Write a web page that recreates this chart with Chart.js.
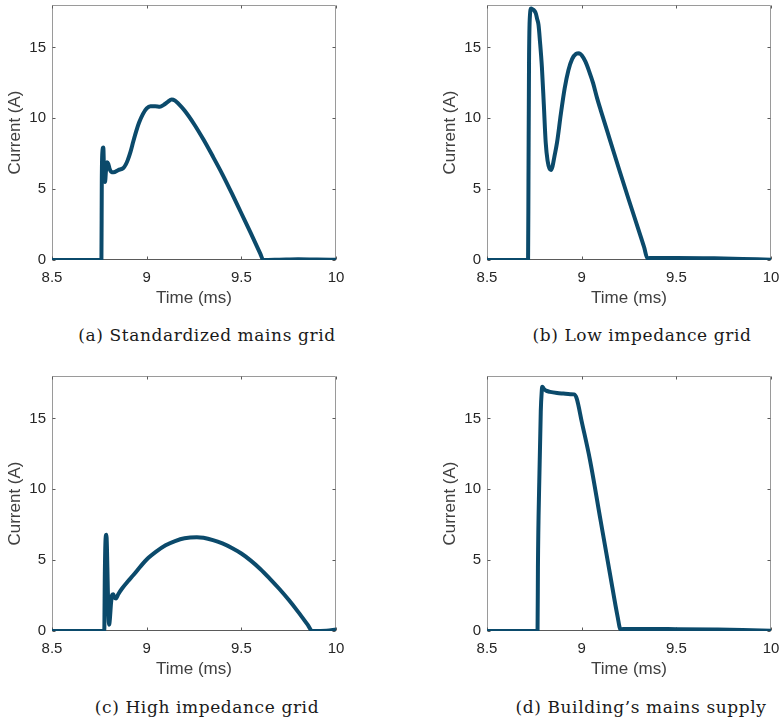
<!DOCTYPE html>
<html>
<head>
<meta charset="utf-8">
<script src="https://cdn.jsdelivr.net/npm/chart.js@4.4.0/dist/chart.umd.min.js"></script>
<style>
body { margin: 0; background: #fff; width: 780px; height: 721px; position: relative; overflow: hidden; }
.panel { position: absolute; width: 390px; height: 320px; }
.cap { position: absolute; font-family: "DejaVu Serif", serif; font-size: 17px; letter-spacing: 0.6px; color: #1a1a1a; transform: translate(-50%, -50%); white-space: nowrap; }
</style>
</head>
<body>
<div class="panel" style="left:0;top:0"><canvas id="chartA" width="390" height="320"></canvas></div>
<div class="panel" style="left:390px;top:0"><canvas id="chartB" width="390" height="320"></canvas></div>
<div class="panel" style="left:0;top:371px"><canvas id="chartC" width="390" height="320"></canvas></div>
<div class="panel" style="left:390px;top:371px"><canvas id="chartD" width="390" height="320"></canvas></div>
<div class="cap" style="left:207px;top:335px">(a) Standardized mains grid</div>
<div class="cap" style="left:642px;top:335px">(b) Low impedance grid</div>
<div class="cap" style="left:207px;top:707px">(c) High impedance grid</div>
<div class="cap" style="left:641px;top:707px">(d) Building’s mains supply</div>
<script>
// axis ticks
const xTicks = [8.5, 9, 9.5, 10];
const xTickLabels = ['8.5', '9', '9.5', '10'];
const yTicks = [0, 5, 10, 15];
const yTickLabels = ['0', '5', '10', '15'];

// (a) standardized mains grid
const timeA = [8.5, 8.761, 8.763, 8.766, 8.771, 8.775, 8.780, 8.785, 8.791, 8.797, 8.805, 8.815, 8.825, 8.850, 8.877,
  8.890, 8.900, 8.915, 8.930, 8.945, 8.960, 8.980, 9.000, 9.020, 9.045, 9.070, 9.090, 9.110, 9.132, 9.150,
  9.170, 9.200, 9.250, 9.300, 9.350, 9.400, 9.450, 9.500, 9.550, 9.600, 9.616, 9.700, 9.800, 9.900, 10.0];
const currentA = [0, 0, 5.6, 7.6, 7.95, 6.2, 5.5, 6.3, 6.9, 6.8, 6.4, 6.2, 6.2, 6.35, 6.5,
  6.75, 7.05, 7.65, 8.4, 9.1, 9.7, 10.3, 10.7, 10.85, 10.85, 10.82, 10.95, 11.15, 11.33, 11.25,
  11.0, 10.55, 9.6, 8.5, 7.3, 6.05, 4.7, 3.3, 1.9, 0.45, 0, 0.02, 0.05, 0.03, 0.02];

// (b) low impedance grid
const timeB = [8.5, 8.717, 8.719, 8.722, 8.727, 8.733, 8.740, 8.750, 8.758, 8.765, 8.772, 8.780, 8.790, 8.800, 8.810,
  8.820, 8.830, 8.838, 8.846, 8.856, 8.870, 8.890, 8.910, 8.930, 8.950, 8.970, 8.986, 9.000, 9.020, 9.040,
  9.060, 9.080, 9.100, 9.150, 9.200, 9.250, 9.300, 9.330, 9.347, 9.360, 9.500, 9.700, 9.850, 10.0];
const currentB = [0, 0, 5.5, 14, 17.3, 17.75, 17.7, 17.6, 17.4, 17.0, 16.6, 15.4, 13.6, 11.0, 8.3,
  7.0, 6.45, 6.35, 6.6, 7.3, 8.3, 10.3, 12.1, 13.4, 14.2, 14.55, 14.6, 14.45, 14.0, 13.3,
  12.5, 11.5, 10.6, 8.45, 6.3, 4.2, 2.15, 0.9, 0.12, 0.15, 0.15, 0.12, 0.07, 0.02];

// (c) high impedance grid
const timeC = [8.5, 8.776, 8.779, 8.783, 8.787, 8.790, 8.794, 8.798, 8.802, 8.806, 8.812, 8.818, 8.823, 8.830, 8.838,
  8.850, 8.870, 8.900, 8.930, 8.970, 9.000, 9.050, 9.100, 9.150, 9.200, 9.265, 9.300, 9.350, 9.400, 9.450,
  9.500, 9.550, 9.600, 9.650, 9.700, 9.750, 9.800, 9.850, 9.875, 9.950, 10.0];
const currentC = [0, 0, 4.0, 6.5, 6.8, 6.0, 3.5, 1.2, 0.45, 0.9, 2.0, 2.55, 2.6, 2.35, 2.3,
  2.6, 3.0, 3.5, 3.95, 4.6, 5.05, 5.6, 6.05, 6.35, 6.55, 6.62, 6.58, 6.42, 6.18, 5.86,
  5.47, 4.97, 4.38, 3.7, 2.98, 2.2, 1.35, 0.45, 0, 0.02, 0.1];

// (d) building's mains supply
const timeD = [8.5, 8.767, 8.769, 8.776, 8.784, 8.789, 8.792, 8.800, 8.815, 8.833, 8.870, 8.903, 8.940, 8.960, 8.974,
  9.000, 9.044, 9.100, 9.150, 9.190, 9.205, 9.220, 9.300, 9.500, 9.700, 9.850, 10.0];
const currentD = [0, 0, 4.5, 10.5, 15.5, 16.9, 17.25, 17.1, 16.95, 16.88, 16.8, 16.76, 16.72, 16.7, 16.4,
  14.8, 12.07, 7.8, 4.0, 1.0, 0.12, 0.15, 0.15, 0.13, 0.1, 0.07, 0.02];

const LINE_COLOR = 'rgb(11,74,107)';
const SANS = '"Liberation Sans", Arial, sans-serif';

// MATLAB-like box with inward ticks on all four sides
const axisBox = {
  id: 'axisBox',
  beforeDatasetsDraw(chart) {
    const {ctx, chartArea: a, scales: {x, y}} = chart;
    const l = Math.round(a.left) + 0.5, r = Math.round(a.right) - 0.5;
    const t = Math.round(a.top) + 0.5, b = Math.round(a.bottom) - 0.5;
    ctx.save();
    ctx.lineWidth = 1;
    ctx.strokeStyle = '#9a9a9a';
    ctx.beginPath();
    ctx.moveTo(l, b); ctx.lineTo(l, t); ctx.lineTo(r, t); ctx.lineTo(r, b);
    ctx.stroke();
    ctx.strokeStyle = '#5a5a5a';
    ctx.beginPath();
    ctx.moveTo(l, b); ctx.lineTo(r, b);
    for (const tk of x.ticks) {
      const px = Math.round(x.getPixelForValue(tk.value)) + 0.5;
      ctx.moveTo(px, b); ctx.lineTo(px, b - 3);
      ctx.moveTo(px, t); ctx.lineTo(px, t + 3);
    }
    for (const tk of y.ticks) {
      const py = Math.round(y.getPixelForValue(tk.value)) + 0.5;
      ctx.moveTo(l, py); ctx.lineTo(l + 3, py);
      ctx.moveTo(r, py); ctx.lineTo(r - 3, py);
    }
    ctx.stroke();
    ctx.restore();
  }
};

function makeChart(id, times, currents, padLeft, padRight) {
  const points = times.map((t, i) => ({x: t, y: currents[i]}));
  return new Chart(document.getElementById(id), {
    type: 'line',
    data: {
      datasets: [{
        data: points,
        borderColor: LINE_COLOR,
        borderWidth: 4,
        pointRadius: 0,
        cubicInterpolationMode: 'monotone',
        fill: false
      }]
    },
    options: {
      responsive: false,
      animation: false,
      events: [],
      layout: {padding: {left: padLeft, right: padRight, top: 5, bottom: 0}},
      plugins: {legend: {display: false}, tooltip: {enabled: false}},
      scales: {
        x: {
          type: 'linear',
          min: 8.5,
          max: 10,
          grid: {display: false, drawTicks: false},
          border: {display: false},
          afterBuildTicks: s => { s.ticks = xTicks.map(v => ({value: v})); },
          afterFit: s => { s.height = 60; s.paddingLeft = 0; s.paddingRight = 0; },
          ticks: {
            autoSkip: false, maxRotation: 0, padding: 9, color: '#262626',
            font: {family: SANS, size: 15},
            callback: v => xTickLabels[xTicks.indexOf(v)]
          },
          title: {
            display: true, text: 'Time (ms)', color: '#404040',
            font: {family: SANS, size: 17}, padding: {top: 0, bottom: 11}
          }
        },
        y: {
          min: 0,
          max: 18,
          grid: {display: false, drawTicks: false},
          border: {display: false},
          afterBuildTicks: s => { s.ticks = yTicks.map(v => ({value: v})); },
          afterFit: s => { s.width = 52; s.paddingTop = 0; s.paddingBottom = 0; },
          ticks: {
            padding: 6, color: '#262626',
            font: {family: SANS, size: 15},
            callback: v => yTickLabels[yTicks.indexOf(v)]
          },
          title: {
            display: true, text: 'Current (A)', color: '#404040',
            font: {family: SANS, size: 17}, padding: {top: 5, bottom: 0}
          }
        }
      }
    },
    plugins: [axisBox]
  });
}

makeChart('chartA', timeA, currentA, 0, 54);
makeChart('chartB', timeB, currentB, 45, 9);
makeChart('chartC', timeC, currentC, 0, 54);
makeChart('chartD', timeD, currentD, 45, 9);
</script>
</body>
</html>
